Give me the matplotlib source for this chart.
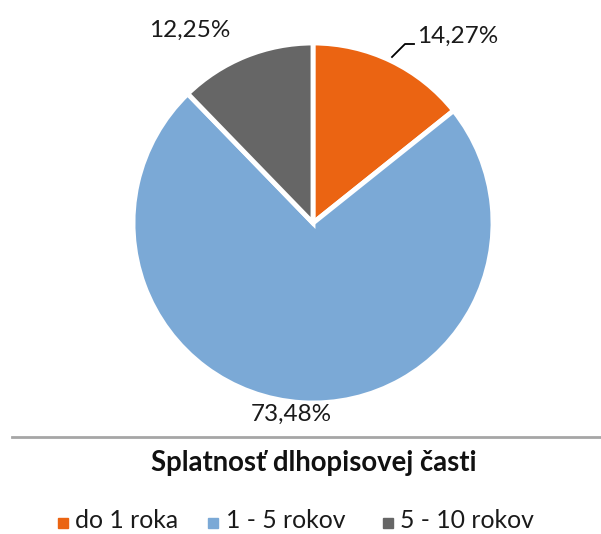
import matplotlib
matplotlib.use("Agg")
import matplotlib.pyplot as plt
from matplotlib.lines import Line2D

categories = ["do 1 roka", "1 - 5 rokov", "5 - 10 rokov"]
values = [14.27, 73.48, 12.25]
labels = ["14,27%", "73,48%", "12,25%"]
colors = ["#EB6412", "#7BA9D6", "#666666"]
title = "Splatnosť dlhopisovej časti"

plt.rcParams['font.family'] = ['Lato', 'DejaVu Sans']

W, H = 601, 534
fig = plt.figure(figsize=(W / 100, H / 100), dpi=100)
fig.patch.set_facecolor("white")

# pie axes: center (313,223), radius 180 px
cx, cy, r = 313, 223, 180
ax = fig.add_axes([(cx - r) / W, (H - cy - r) / H, 2 * r / W, 2 * r / H])
ax.pie(values, colors=colors, startangle=90, counterclock=False,
       wedgeprops=dict(edgecolor="white", linewidth=3.5), radius=1.0)
ax.set_xlim(-1, 1)
ax.set_ylim(-1, 1)
ax.set_aspect("equal")
ax.axis("off")

def px(x, y):
    return x / W, 1 - y / H

fs = 17.5
tc = "#1a1a1a"
fig.text(*px(458, 36), labels[0], fontsize=fs, ha="center", va="center", color=tc)
fig.text(*px(190, 30), labels[2], fontsize=fs, ha="center", va="center", color=tc)
fig.text(*px(291, 414), labels[1], fontsize=fs, ha="center", va="center", color=tc)

# leader line for 14,27%
lx = [392 / W, 405 / W, 414 / W]
ly = [1 - 57 / H, 1 - 44 / H, 1 - 44 / H]
fig.add_artist(Line2D(lx, ly, color="black", linewidth=1.3))

# separator line
fig.add_artist(Line2D([12 / W, 1.0], [1 - 436.5 / H, 1 - 436.5 / H], color="#a6a6a6", linewidth=2))

fig.text(*px(314, 463), title, fontsize=19.8, fontweight="bold", ha="center", va="center", color="#111111")

# legend
leg_y = 521
items = [(63, 75), (213, 226), (388, 400)]
for (sx, tx), c, name in zip(items, colors, categories):
    fig.add_artist(Line2D([sx / W], [1 - (leg_y + 2) / H], marker="s", markersize=6.5,
                          color=c, linestyle="none"))
    fig.text(tx / W, 1 - leg_y / H, name, fontsize=17.8, ha="left", va="center", color=tc)

fig.savefig("out.png", dpi=100, facecolor="white")
